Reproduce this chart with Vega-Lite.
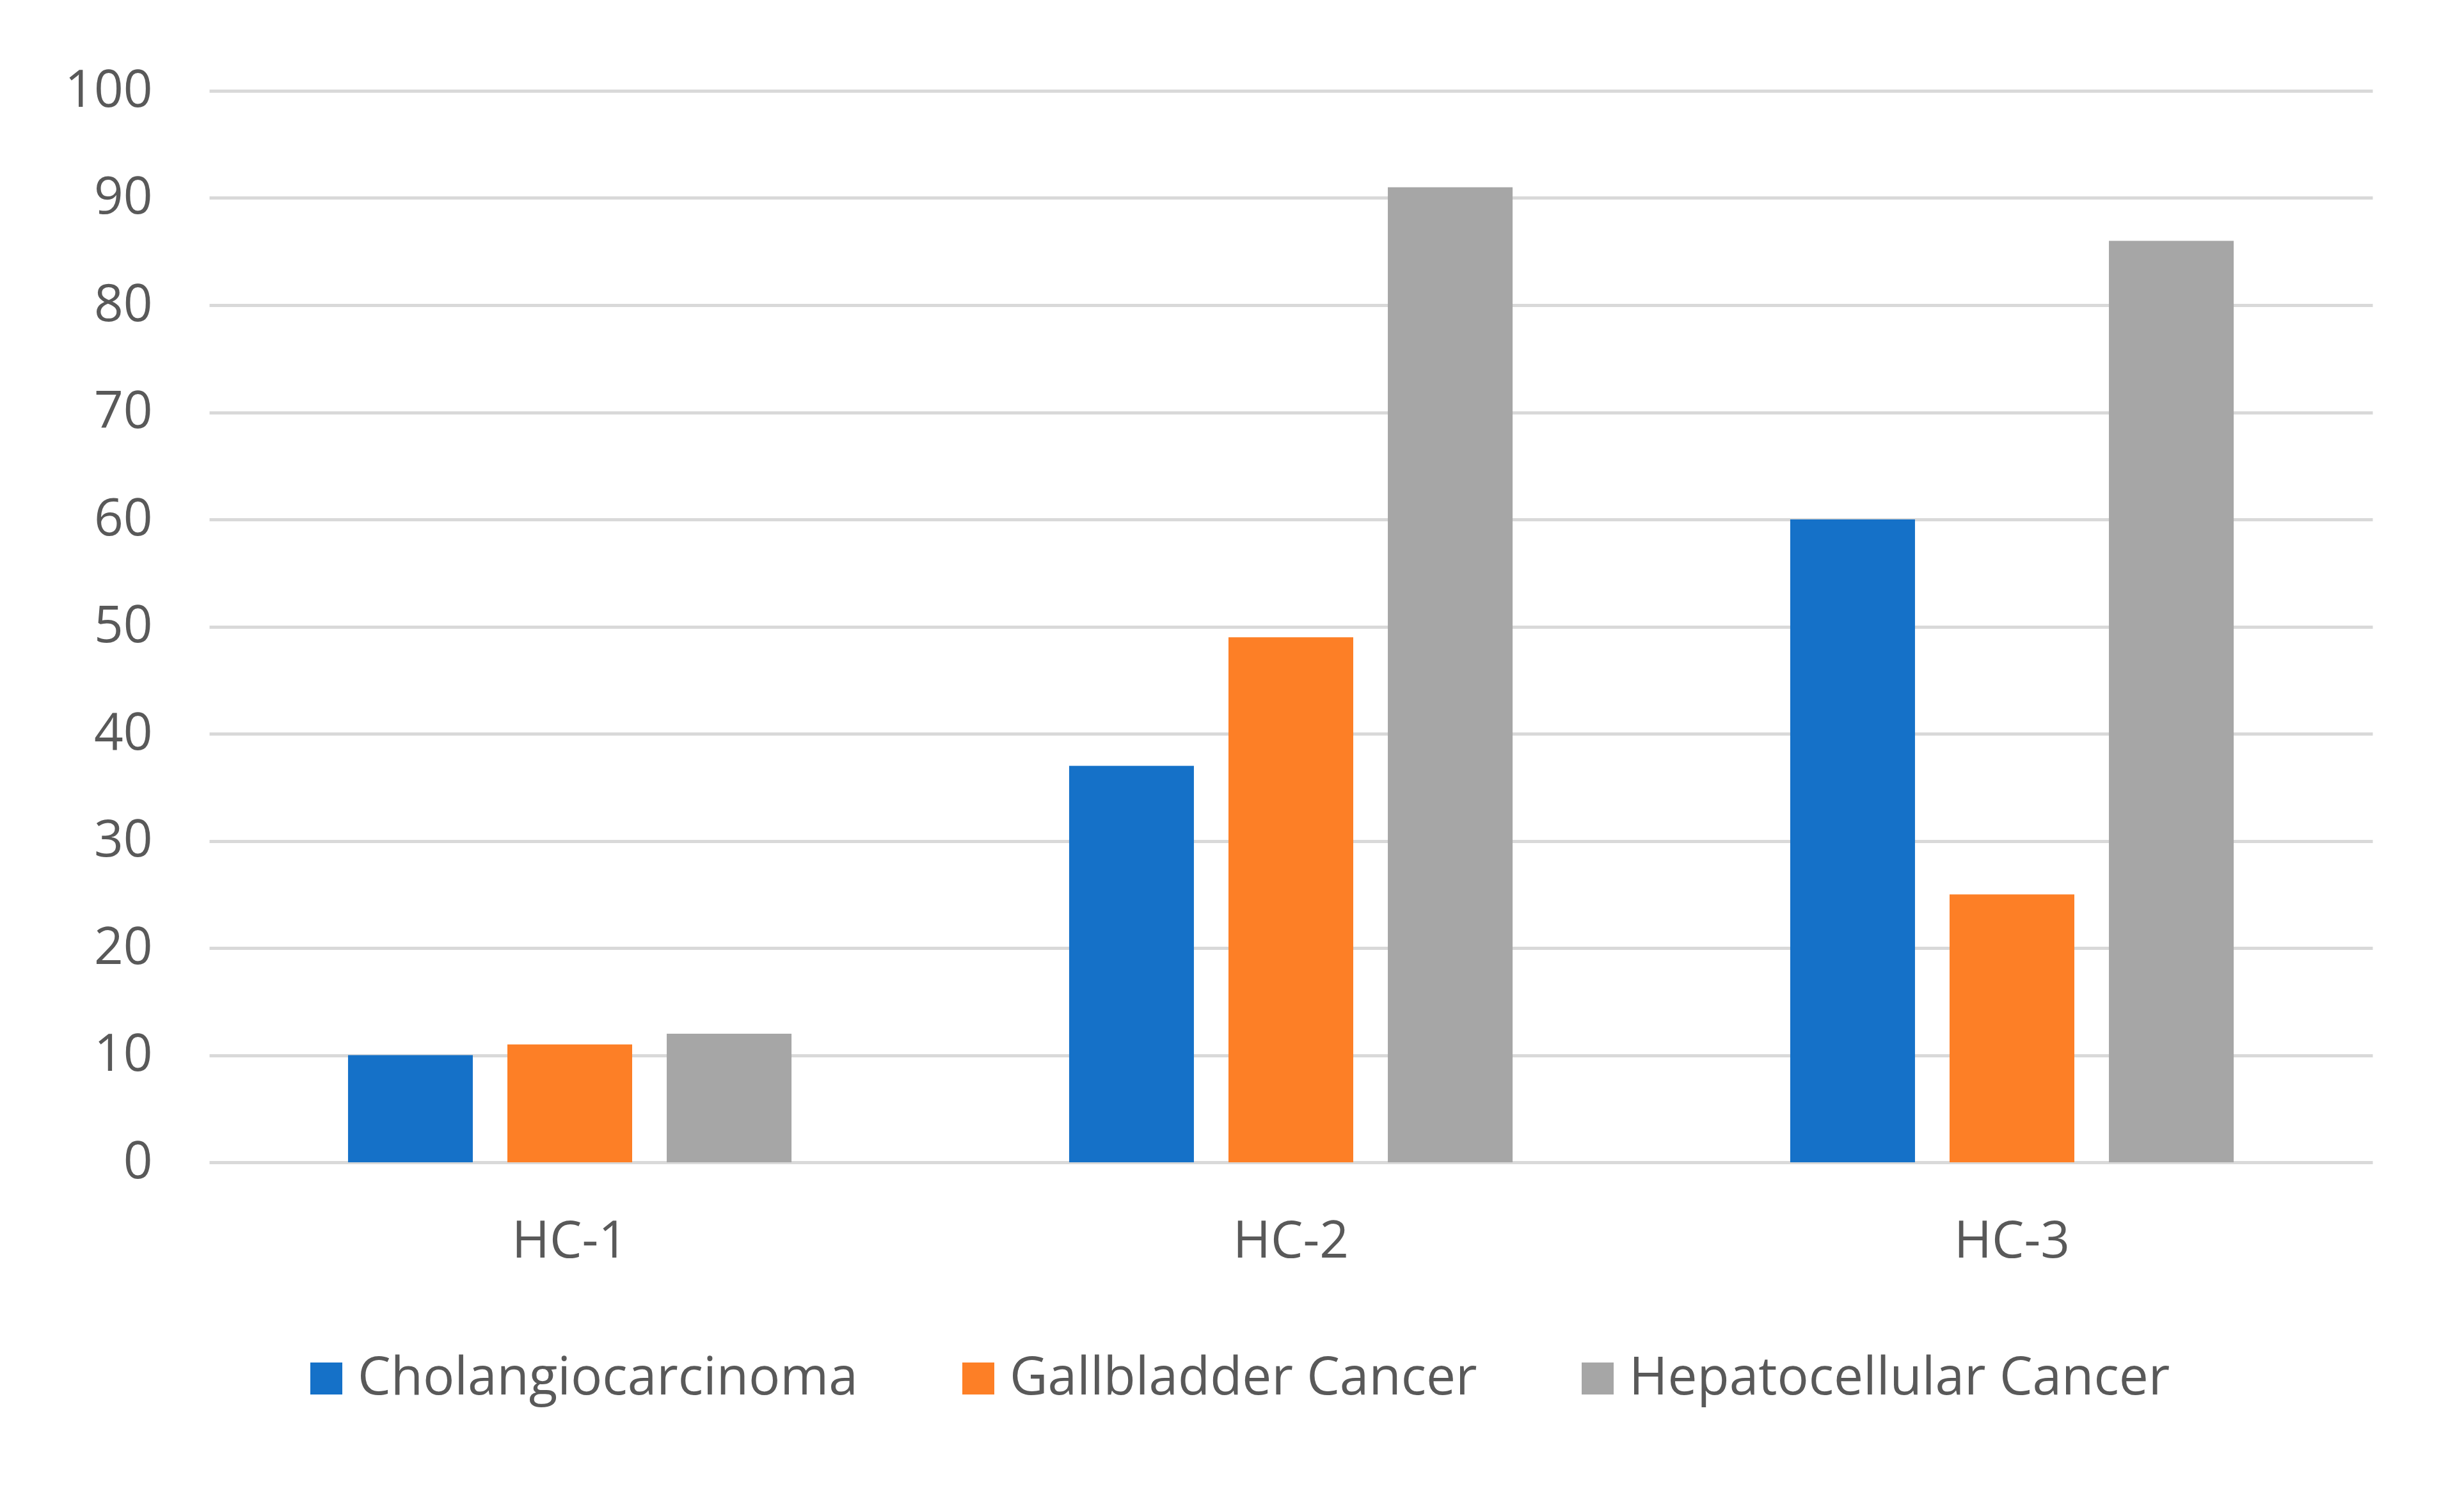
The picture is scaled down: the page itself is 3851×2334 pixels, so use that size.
{
  "$schema": "https://vega.github.io/schema/vega-lite/v6.json",
  "autosize": {"type": "none"},
  "padding": {"left": 327, "top": 142, "right": 143, "bottom": 517},
  "width": 3381,
  "height": 1675,
  "background": "white",
  "data": {
    "values": [
      {"group": "HC-1", "type": "Cholangiocarcinoma", "value": 10},
      {"group": "HC-1", "type": "Gallbladder Cancer", "value": 11},
      {"group": "HC-1", "type": "Hepatocellular Cancer", "value": 12},
      {"group": "HC-2", "type": "Cholangiocarcinoma", "value": 37},
      {"group": "HC-2", "type": "Gallbladder Cancer", "value": 49},
      {"group": "HC-2", "type": "Hepatocellular Cancer", "value": 91},
      {"group": "HC-3", "type": "Cholangiocarcinoma", "value": 60},
      {"group": "HC-3", "type": "Gallbladder Cancer", "value": 25},
      {"group": "HC-3", "type": "Hepatocellular Cancer", "value": 86}
    ]
  },
  "mark": {"type": "bar"},
  "encoding": {
    "x": {
      "field": "group", "type": "nominal",
      "scale": {"paddingInner": 0.385, "paddingOuter": 0.1925},
      "axis": {
        "title": null, "labelAngle": 0, "domain": false, "ticks": false,
        "labelFont": "Open Sans", "labelFontSize": 80, "labelColor": "#595959",
        "labelPadding": 85, "labelLimit": 2000
      }
    },
    "xOffset": {
      "field": "type", "type": "nominal",
      "scale": {"paddingInner": 0.217, "paddingOuter": 0}
    },
    "y": {
      "field": "value", "type": "quantitative",
      "scale": {"domain": [0, 100], "nice": false},
      "axis": {
        "title": null, "domain": false, "ticks": false,
        "values": [0, 10, 20, 30, 40, 50, 60, 70, 80, 90, 100],
        "grid": true, "gridColor": "#d9d9d9", "gridWidth": 5,
        "labelFont": "Open Sans", "labelFontSize": 80, "labelColor": "#595959",
        "labelPadding": 89
      }
    },
    "color": {
      "field": "type", "type": "nominal",
      "scale": {
        "domain": ["Cholangiocarcinoma", "Gallbladder Cancer", "Hepatocellular Cancer"],
        "range": ["#1571c8", "#fd7f26", "#a6a6a6"]
      },
      "legend": {
        "title": null,
        "orient": "none",
        "direction": "horizontal",
        "legendX": 142,
        "legendY": 1972,
        "symbolType": "square",
        "symbolSize": 2500,
        "symbolStrokeWidth": 0,
        "symbolOpacity": 1,
        "labelFont": "Open Sans",
        "labelFontSize": 82,
        "labelColor": "#595959",
        "labelOffset": 8,
        "columnPadding": 147,
        "labelLimit": 2000
      }
    }
  },
  "config": {
    "view": {"stroke": null},
    "axis": {"gridCap": "butt"}
  }
}
